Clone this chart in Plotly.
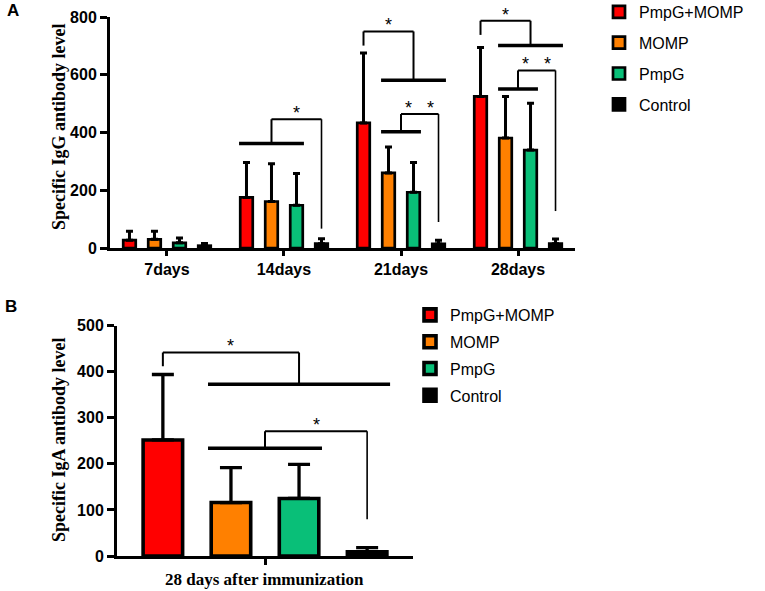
import plotly.graph_objects as go

# ---------------- data ----------------
categories = ["7days", "14days", "21days", "28days"]
series = ["PmpG+MOMP", "MOMP", "PmpG", "Control"]
colors = ["#FF0000", "#FF8000", "#09BF78", "#000000"]

# Panel A: specific IgG (mean and SD, upper error only)
igg_pmpg_momp = [27, 175, 433, 525]
igg_momp = [30, 161, 260, 381]
igg_pmpg = [18, 148, 193, 339]
igg_control = [8, 15, 14, 15]
igg_sd_pmpg_momp = [31, 121, 242, 169]
igg_sd_momp = [28, 131, 90, 144]
igg_sd_pmpg = [17, 110, 103, 162]
igg_sd_control = [8, 17, 13, 16]

# Panel B: specific IgA at 28 days
iga_label = "28 days after immunization"
iga_mean = [252, 116, 125, 9]
iga_sd = [142, 76, 74, 9]

# significance brackets (values in data units)
igg_brackets = [
    dict(cat=1, single=3, single_end=67, span=(0, 2), span_y=362, top=446, label="*"),
    dict(cat=2, single=0, single_end=701, span=(1, 3), span_y=581, top=750, label="*"),
    dict(cat=2, single=3, single_end=90, span=(1, 2), span_y=403, top=464, label="*\u00a0\u00a0\u00a0*"),
    dict(cat=3, single=0, single_end=738, span=(1, 3), span_y=701, top=787, label="*"),
    dict(cat=3, single=3, single_end=128, span=(1, 2), span_y=551, top=615, label="*\u00a0\u00a0\u00a0*"),
]
iga_brackets = [
    dict(cat=0, single=0, single_end=412, span=(1, 3), span_y=373, top=442, label="*"),
    dict(cat=0, single=3, single_end=80, span=(1, 2), span_y=234, top=271, label="*"),
]

igg_means = [igg_pmpg_momp, igg_momp, igg_pmpg, igg_control]
igg_sds = [igg_sd_pmpg_momp, igg_sd_momp, igg_sd_pmpg, igg_sd_control]

# ---------------- layout constants ----------------
W, H = 765, 591
SLOT = 0.2137
BAR_A = 0.107
BAR_B = 0.124
SANS = "Liberation Sans, Arial, sans-serif"
SERIF = "Liberation Serif, Times New Roman, serif"


def bar_x(cat, i):
    return cat + (i - 1.5) * SLOT


fig = go.Figure()

# Panel A bars
for i, name in enumerate(series):
    fig.add_trace(go.Bar(
        x=[bar_x(c, i) for c in range(len(categories))],
        y=igg_means[i],
        width=BAR_A,
        name=name,
        marker=dict(color=colors[i], line=dict(color="black", width=2.7)),
        error_y=dict(type="data", array=igg_sds[i], arrayminus=[0] * len(categories),
                     symmetric=False, color="black", thickness=3, width=3.5),
        xaxis="x", yaxis="y", legend="legend", legendgroup="A%d" % i,
    ))

# Panel B bars
for i, name in enumerate(series):
    fig.add_trace(go.Bar(
        x=[bar_x(0, i)],
        y=[iga_mean[i]],
        width=BAR_B,
        name=name,
        marker=dict(color=colors[i], line=dict(color="black", width=3.6)),
        error_y=dict(type="data", array=[iga_sd[i]], arrayminus=[0],
                     symmetric=False, color="black", thickness=3.3, width=11),
        xaxis="x2", yaxis="y2", legend="legend2", legendgroup="B%d" % i,
    ))


def add_brackets(brackets, xref, yref, barw):
    for b in brackets:
        a0, a1 = b["span"]
        sx0 = bar_x(b["cat"], a0) - barw / 2 - 0.01
        sx1 = bar_x(b["cat"], a1) + barw / 2 + 0.01
        smid = (bar_x(b["cat"], a0) + bar_x(b["cat"], a1)) / 2
        px = bar_x(b["cat"], b["single"])
        end_w = 2 if b["single"] == 0 else 1.6
        segs = [
            (sx0, b["span_y"], sx1, b["span_y"], 3.5),
            (smid, b["span_y"], smid, b["top"], 2),
            (min(px, smid), b["top"], max(px, smid), b["top"], 2),
            (px, b["single_end"], px, b["top"], end_w),
        ]
        for x0, y0, x1, y1, lw in segs:
            fig.add_shape(type="line", x0=x0, y0=y0, x1=x1, y1=y1, xref=xref, yref=yref,
                          line=dict(color="black", width=lw), layer="above")
        fig.add_annotation(x=(px + smid) / 2, y=b["top"], xref=xref, yref=yref,
                           text=b["label"], showarrow=False, xanchor="center",
                           yanchor="bottom", yshift=-6,
                           font=dict(family=SANS, size=18, color="black"))


add_brackets(igg_brackets, "x", "y", BAR_A)
add_brackets(iga_brackets, "x2", "y2", BAR_B)

axis_common = dict(showline=True, linecolor="black", linewidth=3, ticks="outside",
                   tickcolor="black", tickwidth=3, showgrid=False, zeroline=False,
                   automargin=False,
                   tickfont=dict(family=SANS, size=16, color="black", weight="bold"))

fig.update_layout(
    width=W, height=H,
    margin=dict(l=0, r=0, t=0, b=0, autoexpand=False),
    plot_bgcolor="white", paper_bgcolor="white",
    barmode="overlay",
    xaxis=dict(domain=[110 / W, 575 / W], range=[-0.487, 3.487],
               tickvals=list(range(len(categories))), ticktext=categories,
               ticklen=5, anchor="y", **axis_common),
    yaxis=dict(domain=[1 - 248 / H, 1 - 17 / H], range=[0, 800],
               tickvals=[0, 200, 400, 600, 800], ticklen=7, anchor="x", **axis_common),
    xaxis2=dict(domain=[117 / W, 413 / W], range=[-0.4645, 0.4645],
                tickvals=[0], ticktext=[""], ticklen=6, anchor="y2", **axis_common),
    yaxis2=dict(domain=[1 - 556 / H, 1 - 325.7 / H], range=[0, 500],
                tickvals=[0, 100, 200, 300, 400, 500], ticklen=7, anchor="x2", **axis_common),
    legend=dict(x=599 / W, y=1 + 5 / H, xanchor="left", yanchor="top",
                font=dict(family=SANS, size=16, color="black"),
                tracegroupgap=7, bgcolor="rgba(0,0,0,0)"),
    legend2=dict(x=410 / W, y=1 - 298 / H, xanchor="left", yanchor="top",
                 font=dict(family=SANS, size=16, color="black"),
                 tracegroupgap=3, bgcolor="rgba(0,0,0,0)"),
    showlegend=True,
)

# axis titles and panel letters
fig.add_annotation(x=59 / W, y=1 - 127 / H, xref="paper", yref="paper", showarrow=False,
                   xanchor="center", yanchor="middle",
                   text="Specific IgG antibody level", textangle=-90,
                   font=dict(family=SERIF, size=18, color="black", weight="bold"))
fig.add_annotation(x=59 / W, y=1 - 440 / H, xref="paper", yref="paper", showarrow=False,
                   xanchor="center", yanchor="middle",
                   text="Specific IgA antibody level", textangle=-90,
                   font=dict(family=SERIF, size=18, color="black", weight="bold"))
fig.add_annotation(x=264 / W, y=1 - 579 / H, xref="paper", yref="paper", showarrow=False,
                   xanchor="center", yanchor="middle",
                   text=iga_label,
                   font=dict(family=SERIF, size=17, color="black", weight="bold"))
fig.add_annotation(x=13 / W, y=1 - 11 / H, xref="paper", yref="paper", showarrow=False,
                   xanchor="center", yanchor="middle",
                   text="A", font=dict(family=SANS, size=17, color="black", weight="bold"))
fig.add_annotation(x=11 / W, y=1 - 306 / H, xref="paper", yref="paper", showarrow=False,
                   xanchor="center", yanchor="middle",
                   text="B", font=dict(family=SANS, size=17, color="black", weight="bold"))

fig.write_html("out.html", config={"displayModeBar": False},
               post_script="document.body.style.margin='0px';")
